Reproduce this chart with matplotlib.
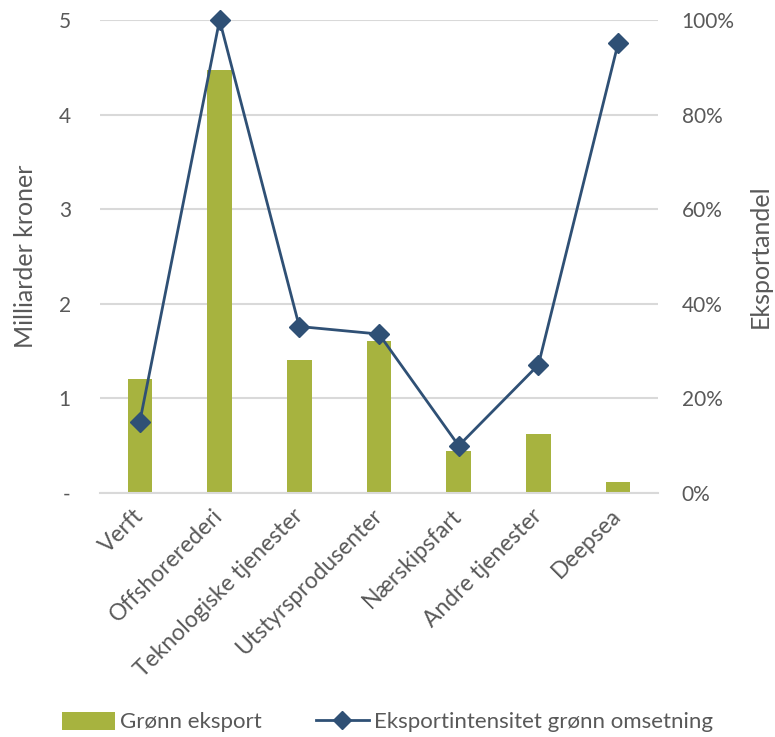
import matplotlib
matplotlib.use("Agg")
import matplotlib.pyplot as plt
from matplotlib.lines import Line2D
from matplotlib.patches import Patch
import numpy as np

categories = ["Verft", "Offshorerederi", "Teknologiske tjenester", "Utstyrsprodusenter",
              "Nærskipsfart", "Andre tjenester", "Deepsea"]
gronn_eksport = [1.21, 4.47, 1.41, 1.61, 0.44, 0.62, 0.12]
eksportintensitet = [0.151, 1.00, 0.352, 0.336, 0.100, 0.271, 0.951]
left_ticks = [0, 1, 2, 3, 4, 5]
left_ticklabels = ["-", "1", "2", "3", "4", "5"]
right_ticks = [0, 0.2, 0.4, 0.6, 0.8, 1.0]
right_ticklabels = ["0%", "20%", "40%", "60%", "80%", "100%"]

bar_color = "#A7B33F"
line_color = "#2F5075"
text_color = "#595959"
grid_color = "#D9D9D9"

plt.rcParams['font.family'] = ['Lato', 'DejaVu Sans']

fig = plt.figure(figsize=(7.75, 7.37), dpi=100)
ax = fig.add_axes([100/775, 1 - 493/737, 558/775, 473/737])
x = np.arange(len(categories))
ax.bar(x, gronn_eksport, width=0.31, color=bar_color, zorder=2)
ax.set_ylim(0, 5)
ax.set_xlim(-0.5, len(categories) - 0.5)
ax.set_yticks(left_ticks)
ax.set_yticklabels(left_ticklabels)
ax.yaxis.grid(True, color=grid_color, linewidth=1.5, zorder=0)
ax.set_axisbelow(True)
for s in ["top", "right", "left"]:
    ax.spines[s].set_visible(False)
ax.spines["bottom"].set_color(grid_color)
ax.spines["bottom"].set_linewidth(1.5)
ax.tick_params(axis="y", length=0, pad=21, labelsize=15, labelcolor=text_color)
ax.tick_params(axis="x", length=0, pad=14, labelsize=16.5, labelcolor=text_color)
ax.set_xticks(x)
ax.set_xticklabels(categories, rotation=45, ha="right", va="center", rotation_mode="anchor")

ax2 = ax.twinx()
ax2.plot(x, eksportintensitet, color=line_color, linewidth=2, marker="D", markersize=10.5,
         zorder=3, clip_on=False)
ax2.set_ylim(0, 1)
ax2.set_yticks(right_ticks)
ax2.set_yticklabels(right_ticklabels)
for s in ["top", "right", "left", "bottom"]:
    ax2.spines[s].set_visible(False)
ax2.tick_params(axis="y", length=0, pad=17, labelsize=15, labelcolor=text_color)

fig.text(26/775, 1 - 256/737, "Milliarder kroner", rotation=90, ha="center", va="center",
         fontsize=18, color=text_color)
fig.text(760/775, 1 - 256/737, "Eksportandel", rotation=90, ha="center", va="center",
         fontsize=18, color=text_color)

handles = [Patch(facecolor=bar_color, label="Grønn eksport"),
           Line2D([0], [0], color=line_color, linewidth=2, marker="D", markersize=9,
                  label="Eksportintensitet grønn omsetning")]
fig.legend(handles=handles, loc="center", bbox_to_anchor=(0.5, 1 - 722/737), ncol=2,
           frameon=False, fontsize=16, labelcolor=text_color, handlelength=2.4,
           handletextpad=0.25, columnspacing=2.4, handleheight=0.9)

fig.savefig("out.png", dpi=100)
